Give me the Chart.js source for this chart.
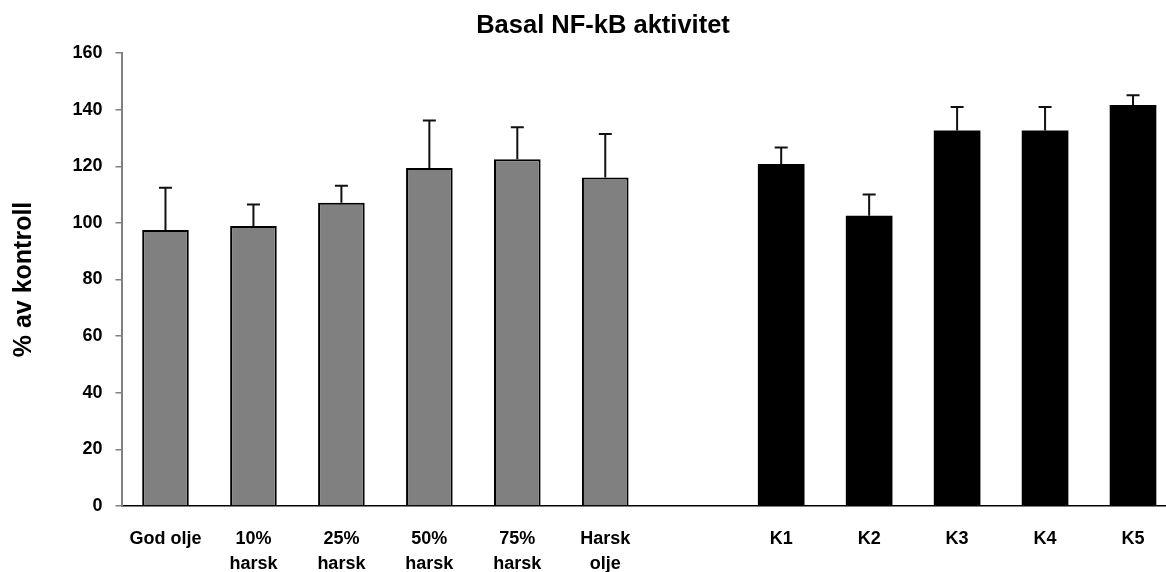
<!DOCTYPE html>
<html>
<head>
<meta charset="utf-8">
<script src="https://cdn.jsdelivr.net/npm/chart.js@4/dist/chart.umd.min.js"></script>
<style>
  html, body { margin: 0; padding: 0; background: #fff; overflow: hidden; }
  #wrap { width: 1180px; height: 572px; }
</style>
</head>
<body>
<div id="wrap"><canvas id="c" width="1180" height="572"></canvas></div>
<script>
// Category labels (multi-line), with an empty slot separating the two groups
const categories = [
  ['God olje'], ['10%', 'harsk'], ['25%', 'harsk'], ['50%', 'harsk'],
  ['75%', 'harsk'], ['Harsk', 'olje'], [''],
  ['K1'], ['K2'], ['K3'], ['K4'], ['K5']
];

// Oil series: mean and upper error (SD)
const oilMeans = [97.5, 98.9, 107.1, 119.4, 122.5, 116.0];
const oilErrors = [14.9, 7.6, 6.0, 16.8, 11.3, 15.4];

// Control series K1–K5: mean and upper error (SD)
const controlMeans = [120.8, 102.5, 132.6, 132.6, 141.6];
const controlErrors = [5.8, 7.5, 8.3, 8.3, 3.5];

// Y axis ticks
const yTicks = [0, 20, 40, 60, 80, 100, 120, 140, 160];

const titleText = 'Basal NF-kB aktivitet';
const yTitleText = '% av kontroll';

const gapSlots = categories.length - oilMeans.length - controlMeans.length;
const pad = n => Array(n).fill(null);

const oilData = oilMeans.concat(pad(categories.length - oilMeans.length));
const oilErr = oilErrors.concat(pad(categories.length - oilErrors.length));
const ctrlData = pad(oilMeans.length + gapSlots).concat(controlMeans);
const ctrlErr = pad(oilMeans.length + gapSlots).concat(controlErrors);

const FONT = '"Liberation Sans", Arial, Helvetica, sans-serif';
Chart.defaults.font.family = FONT;
Chart.defaults.font.weight = 'bold';
Chart.defaults.color = '#000';

// Upper error bars with a short cap
const errorBars = {
  id: 'errorBars',
  afterDatasetsDraw(chart) {
    const ctx = chart.ctx;
    const y = chart.scales.y;
    chart.data.datasets.forEach((ds, di) => {
      const meta = chart.getDatasetMeta(di);
      meta.data.forEach((bar, i) => {
        const v = ds.data[i];
        const e = ds.errors[i];
        if (v == null || e == null) return;
        const x = bar.x;
        const yBase = y.getPixelForValue(v);
        const yTop = y.getPixelForValue(v + e);
        ctx.save();
        ctx.strokeStyle = '#111';
        ctx.lineWidth = 2;
        ctx.beginPath();
        ctx.moveTo(x, yBase);
        ctx.lineTo(x, yTop);
        ctx.moveTo(x - 6.5, yTop);
        ctx.lineTo(x + 6.5, yTop);
        ctx.stroke();
        ctx.restore();
      });
    });
  }
};

// Chart heading
const heading = {
  id: 'heading',
  afterDraw(chart) {
    const ctx = chart.ctx;
    ctx.save();
    ctx.font = 'bold 25.5px ' + FONT;
    ctx.fillStyle = '#000';
    ctx.textAlign = 'center';
    ctx.textBaseline = 'middle';
    ctx.fillText(titleText, 603, 26);
    ctx.restore();
  }
};

new Chart(document.getElementById('c'), {
  type: 'bar',
  data: {
    labels: categories,
    datasets: [
      {
        data: oilData,
        errors: oilErr,
        backgroundColor: '#808080',
        borderColor: '#000',
        borderWidth: 2,
        grouped: false
      },
      {
        data: ctrlData,
        errors: ctrlErr,
        backgroundColor: '#000',
        borderColor: '#000',
        borderWidth: 0,
        grouped: false
      }
    ]
  },
  options: {
    responsive: false,
    animation: false,
    layout: { padding: { top: 53, right: 3, left: 0, bottom: 0 } },
    datasets: { bar: { barPercentage: 0.53, categoryPercentage: 1 } },
    plugins: {
      legend: { display: false },
      title: { display: false },
      tooltip: { enabled: false }
    },
    scales: {
      x: {
        grid: { display: false, drawTicks: false },
        border: { display: true, color: '#000', width: 1.5 },
        ticks: {
          autoSkip: false,
          maxRotation: 0,
          minRotation: 0,
          padding: 21,
          font: { size: 18, weight: 'bold', lineHeight: 1.37 },
          color: '#000'
        },
        afterFit(scale) { scale.height = 66; }
      },
      y: {
        min: 0,
        max: 160,
        afterBuildTicks(scale) { scale.ticks = yTicks.map(v => ({ value: v })); },
        grid: {
          drawOnChartArea: false,
          drawTicks: true,
          tickLength: 6,
          color: '#808080',
          lineWidth: 1.5
        },
        border: { display: true, color: '#808080', width: 2 },
        ticks: {
          padding: 13,
          font: { size: 18, weight: 'bold' },
          color: '#000'
        },
        title: {
          display: true,
          text: yTitleText,
          font: { size: 25, weight: 'bold' },
          color: '#000',
          padding: { top: 9, bottom: 0 }
        },
        afterFit(scale) { scale.width = 121.5; }
      }
    }
  },
  plugins: [errorBars, heading]
});
</script>
</body>
</html>
